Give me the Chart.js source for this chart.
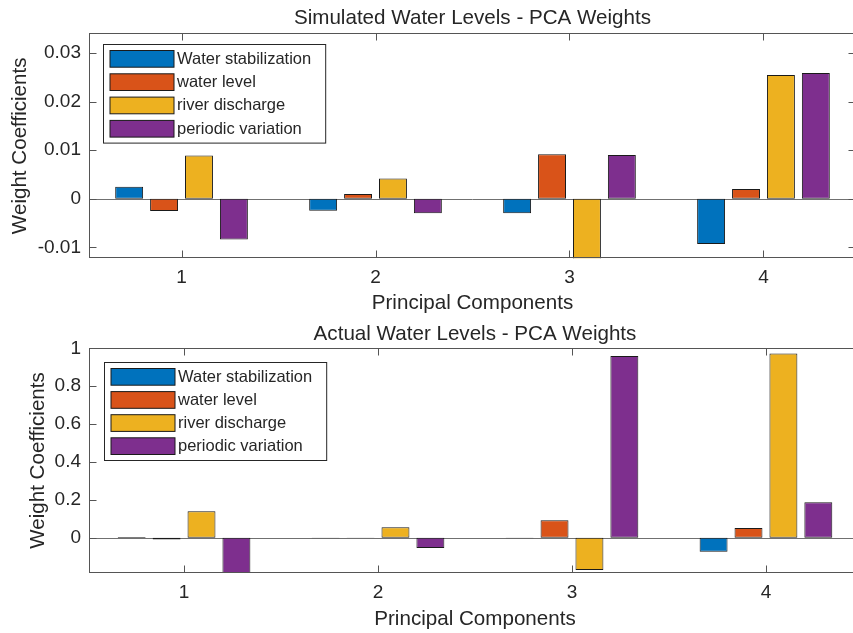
<!DOCTYPE html>
<html><head><meta charset="utf-8">
<script src="https://cdn.jsdelivr.net/npm/chart.js@4.4.1/dist/chart.umd.min.js"></script>
<style>
html,body{margin:0;padding:0;background:#fff;overflow:hidden;width:853px;height:633px;position:relative;}
canvas{position:absolute;left:0;}
#c1{top:0}
#c2{top:320px}
</style></head><body>
<canvas id="c1" width="864" height="320"></canvas>
<canvas id="c2" width="864" height="313"></canvas>
<script>
// ---- data ----
const categories = [1, 2, 3, 4];
const categoryLabels = ['1', '2', '3', '4'];
const seriesNames = ['Water stabilization', 'water level', 'river discharge', 'periodic variation'];
const seriesColors = ['#0072BD', '#D95319', '#EDB120', '#7E2F8E'];

// Simulated water levels (top panel)
const simWaterStabilization = [0.0025, -0.00245, -0.0030, -0.0093];
const simWaterLevel        = [-0.0025, 0.0010, 0.0092, 0.0020];
const simRiverDischarge    = [0.0089, 0.0042, -0.0150, 0.0255];
const simPeriodicVariation = [-0.0084, -0.0030, 0.0090, 0.0259];
const simTicks = [-0.01, 0, 0.01, 0.02, 0.03];
const simTickLabels = ['-0.01', '0', '0.01', '0.02', '0.03'];

// Actual water levels (bottom panel)
const actWaterStabilization = [0.004, -0.003, -0.003, -0.074];
const actWaterLevel        = [-0.010, -0.002, 0.092, 0.051];
const actRiverDischarge    = [0.140, 0.055, -0.171, 0.973];
const actPeriodicVariation = [-0.250, -0.0546, 0.959, 0.1875];
const actTicks = [0, 0.2, 0.4, 0.6, 0.8, 1];
const actTickLabels = ['0', '0.2', '0.4', '0.6', '0.8', '1'];

const FONT = "'Liberation Sans', Arial, Helvetica, sans-serif";
const TXT = '#262626';
const AXC = '#555555';

const matlabAxes = {
  id: 'matlabAxes',
  beforeDatasetsDraw(chart) {
    const {ctx, chartArea: a, scales: {y}} = chart;
    const y0 = Math.round(y.getPixelForValue(0)) + 0.5;
    ctx.save();
    ctx.strokeStyle = '#707070'; ctx.lineWidth = 1;
    ctx.beginPath(); ctx.moveTo(a.left, y0); ctx.lineTo(a.right, y0); ctx.stroke();
    ctx.restore();
  },
  afterDraw(chart, args, o) {
    const {ctx, chartArea: a, scales: {x, y}} = chart;
    ctx.save();
    ctx.strokeStyle = AXC; ctx.lineWidth = 1;
    const L = Math.round(a.left) + 0.5, R = Math.round(a.right) - 0.5;
    const T = Math.round(a.top) + 0.5, B = Math.round(a.bottom) - 0.5;
    ctx.strokeRect(L, T, R - L, B - T);
    ctx.beginPath();
    x.ticks.forEach(t => {
      const px = Math.round(x.getPixelForValue(t.value)) + 0.5;
      ctx.moveTo(px, B); ctx.lineTo(px, B - 7);
      ctx.moveTo(px, T); ctx.lineTo(px, T + 7);
    });
    y.ticks.forEach(t => {
      const py = Math.round(y.getPixelForValue(t.value)) + 0.5;
      ctx.moveTo(L, py); ctx.lineTo(L + 7, py);
      ctx.moveTo(R, py); ctx.lineTo(R - 7, py);
    });
    ctx.stroke();

    // legend box
    ctx.font = '16.5px ' + FONT;
    const ds = chart.data.datasets;
    let maxW = 0;
    ds.forEach(d => { maxW = Math.max(maxW, ctx.measureText(d.label).width); });
    const bx = Math.round(a.left + o.offX) + 0.5;
    const by = Math.round(a.top + o.offY) + 0.5;
    const sw = 64, sh = 16.7, pitch = o.pitch, padTop = o.padTop;
    const bw = 7 + sw + 3 + maxW + 14;
    const bh = padTop * 2 + pitch * (ds.length - 1) + sh;
    ctx.fillStyle = '#ffffff';
    ctx.fillRect(bx, by, bw, bh);
    ctx.strokeStyle = '#262626';
    ctx.strokeRect(bx, by, bw, bh);
    ds.forEach((d, i) => {
      const sx = bx + 6.5, sy = by + padTop + i * pitch;
      ctx.fillStyle = d.backgroundColor;
      ctx.fillRect(sx, sy, sw, sh);
      ctx.strokeStyle = '#1a1a1a';
      ctx.strokeRect(sx, sy, sw, sh);
      ctx.fillStyle = TXT;
      ctx.textBaseline = 'middle';
      ctx.textAlign = 'left';
      ctx.fillText(d.label, sx + sw + 3, sy + sh / 2 + 0.5);
    });
    ctx.restore();
  }
};

function makeChart(id, series, o) {
  return new Chart(document.getElementById(id), {
    type: 'bar',
    data: {
      datasets: seriesNames.map((name, i) => ({
        label: name,
        data: categories.map((c, j) => ({x: c, y: series[i][j]})),
        backgroundColor: seriesColors[i],
        borderColor: '#1a1a1a',
        borderWidth: 1,
        borderSkipped: false,
        barPercentage: 0.8,
        categoryPercentage: 0.72
      }))
    },
    options: {
      responsive: false,
      animation: false,
      devicePixelRatio: 1,
      layout: {padding: {left: 0, right: o.padRight, top: 0, bottom: 0}},
      plugins: {
        legend: {display: false},
        tooltip: {enabled: false},
        title: {
          display: true, text: o.title, fullSize: false, color: TXT,
          font: {family: FONT, size: 20.6, weight: 'normal'},
          padding: {top: o.titleTop, bottom: o.titleBottom}
        },
        matlabAxes: {offX: o.legOffX, offY: o.legOffY, pitch: o.legPitch, padTop: 6}
      },
      scales: {
        x: {
          type: 'linear', min: o.xmin, max: o.xmax, offset: false, bounds: 'data',
          grid: {display: false, drawTicks: false, offset: false},
          border: {display: false},
          afterBuildTicks: s => { s.ticks = categories.map(v => ({value: v})); },
          afterFit: s => { s.height = o.xHeight; },
          ticks: {
            color: TXT, font: {family: FONT, size: 19}, padding: o.xTickPad,
            maxRotation: 0, autoSkip: false,
            callback: v => categoryLabels[categories.indexOf(v)]
          },
          title: {
            display: true, text: 'Principal Components', color: TXT,
            font: {family: FONT, size: 20.6}, padding: {top: 0, bottom: o.xTitlePad}
          }
        },
        y: {
          min: o.ymin, max: o.ymax, bounds: 'data',
          grid: {display: false, drawTicks: false},
          border: {display: false},
          afterBuildTicks: s => { s.ticks = o.yTicks.map(v => ({value: v})); },
          afterFit: s => { s.width = 89; },
          ticks: {
            color: TXT, font: {family: FONT, size: 19}, padding: 8,
            callback: v => o.yLabels[o.yTicks.indexOf(v)]
          },
          title: {
            display: true, text: 'Weight Coefficients', color: TXT,
            font: {family: FONT, size: 20.6}, padding: {top: o.yTitlePad, bottom: 0}
          }
        }
      }
    },
    plugins: [matlabAxes]
  });
}

makeChart('c1',
  [simWaterStabilization, simWaterLevel, simRiverDischarge, simPeriodicVariation],
  {
    title: 'Simulated Water Levels - PCA Weights',
    xmin: 0.523, xmax: 4.477, ymin: -0.01227, ymax: 0.0341,
    yTicks: simTicks, yLabels: simTickLabels,
    padRight: 864 - 856, titleTop: 5.6, titleBottom: 3,
    xHeight: 320 - 258.3, xTickPad: 7.7, xTitlePad: 4.6, yTitlePad: 8,
    legOffX: 14.3, legOffY: 10.7, legPitch: 23.3
  });

makeChart('c2',
  [actWaterStabilization, actWaterLevel, actRiverDischarge, actPeriodicVariation],
  {
    title: 'Actual Water Levels - PCA Weights',
    xmin: 0.51, xmax: 4.49, ymin: -0.185, ymax: 1.0,
    yTicks: actTicks, yLabels: actTickLabels,
    padRight: 864 - 861, titleTop: 1.6, titleBottom: 2,
    xHeight: 313 - 252.7, xTickPad: 8.2, xTitlePad: 1.6, yTitlePad: 25.5,
    legOffX: 15, legOffY: 14, legPitch: 23.1
  });
</script>
</body></html>
